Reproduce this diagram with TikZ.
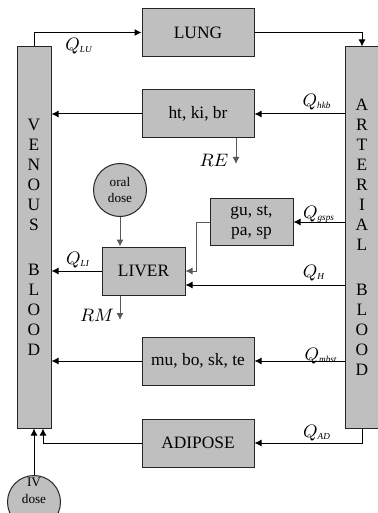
\documentclass[tikz,border=0pt]{standalone}
\usepackage{fontspec}
\setmainfont{Liberation Serif}
\usetikzlibrary{arrows.meta,calc}
\newcommand\qsb[1]{\mbox{\fontsize{4.6}{5}\selectfont\itshape #1}}
\begin{document}
\begin{tikzpicture}[x=0.5pt,y=-0.5pt,
  font=\fontsize{8.7}{10}\selectfont,
  box/.style={draw=black!85, fill=black!25, line width=0.5pt, inner sep=0pt, align=center},
  organ/.style={box, minimum width=56pt, minimum height=24pt},
  blood/.style={box, minimum width=17pt, minimum height=190.5pt},
  dose/.style={box, circle, minimum size=26.5pt, font=\fontsize{6.6}{8}\selectfont},
  dosetext/.style={inner sep=0pt, align=center, font=\fontsize{6.6}{8.5}\selectfont},
  flow/.style={line width=0.5pt, -{Latex[length=3.5pt,width=3.5pt]}},
  gflow/.style={flow, draw=black!65},
  lab/.style={inner sep=0pt}
]
\useasboundingbox (0,0) rectangle (378,513);
% nodes
\node[blood] (ven) at (34,237.5) {V\\E\\N\\O\\U\\S\\[12.5pt]B\\L\\O\\O\\D};
\node[blood] (art) at (362,237.5) {A\\R\\T\\E\\R\\I\\A\\L\\[12.5pt]B\\L\\O\\O\\D};
\node[organ] (lung) at (198,32.5) {LUNG};
\node[organ] (hkb) at (198,114) {ht, ki, br};
\node[dose] (oral) at (120,190) {oral\\dose};
\node[box, minimum width=41.5pt, minimum height=23pt] (gu) at (251.5,222) {gu, st,\\pa, sp};
\node[box, minimum width=41.5pt, minimum height=24pt] (liver) at (143.5,271) {LIVER};
\node[organ] (mu) at (198,361) {mu, bo, sk, te};
\node[organ] (adi) at (198,443) {ADIPOSE};
\node[dose] (iv) at (34,502) {};
\node[dosetext] (ivtext) at (34,491) {IV\\dose};
\coordinate (re) at (236,164);
\coordinate (rm) at (120,320);
\coordinate (qh) at (300,285);
% connectors
\draw[flow] (ven.north) |- (lung.west);
\draw[flow] (lung.east) -| (art.north);
\draw[flow] (art.west |- hkb.east) -- (hkb.east);
\draw[flow] (hkb.west) -- (ven.east |- hkb.west);
\draw[gflow] (re |- hkb.south) -- (re);
\draw[gflow] (oral.south) -- (oral.south |- liver.north);
\draw[flow] (art.west |- gu.east) -- (gu.east);
\draw[gflow] (gu.west) -- ++(-13,0) |- (liver.east);
\draw[flow] (art.west |- qh) -- (liver.east |- qh);
\draw[flow] (liver.west) -- (ven.east |- liver.west);
\draw[gflow] (rm |- liver.south) -- (rm);
\draw[flow] (art.west |- mu.east) -- (mu.east);
\draw[flow] (mu.west) -- (ven.east |- mu.west);
\draw[flow] (art.south) |- (adi.east);
\draw[flow] (adi.west) -| ($(ven.south)+(9,0)$);
\draw[flow] (iv.north) -- (ven.south);
% labels
\node[lab] (qlu) at (79,46) {$Q_{\qsb{LU}}$};
\node[lab] (qhkb) at (317,102) {$Q_{\qsb{hkb}}$};
\node[lab] (qgsps) at (319,214) {$Q_{\qsb{gsps}}$};
\node[lab] (qhh) at (314,273) {$Q_{\qsb{H}}$};
\node[lab] (qmbst) at (321,356) {$Q_{\qsb{mbst}}$};
\node[lab] (qad) at (317,433) {$Q_{\qsb{AD}}$};
\node[lab] (qli) at (78,260) {$Q_{\qsb{LI}}$};
\node[lab] (relab) at (214,160) {$RE$};
\node[lab] (rmlab) at (97,315) {$RM$};
\end{tikzpicture}
\end{document}
